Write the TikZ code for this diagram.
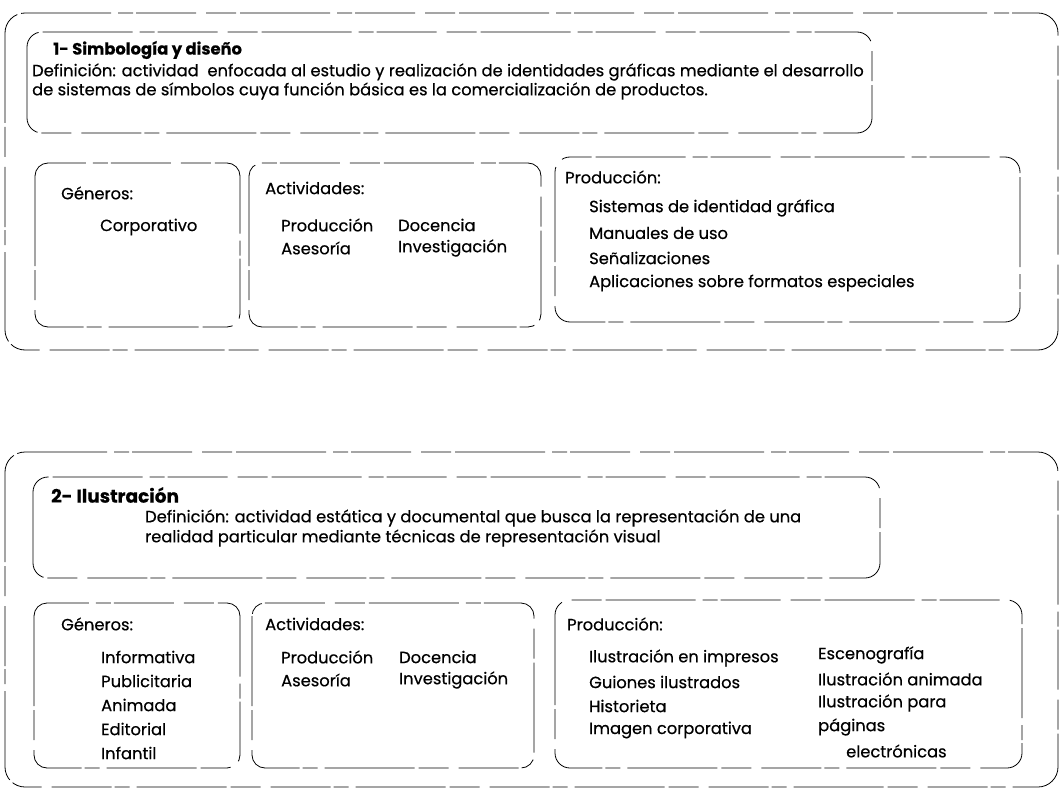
\documentclass[tikz,border=0pt]{standalone}
\usepackage{fontspec}
\setmainfont{Poppins}[FakeBold=0.5]

\tikzset{
  scanline/.style={line width=0.8pt, dash pattern=on 90pt off 4pt on 30pt off 10pt on 60pt off 3pt on 15pt off 7pt},
  txt/.style={anchor=west, inner sep=0pt, font=\fontsize{16.3}{18}\selectfont},
  ttl/.style={anchor=west, inner sep=0pt, font=\fontsize{16.3}{18}\selectfont\bfseries}
}

\begin{document}
\begin{tikzpicture}[x=1pt,y=-1pt]
	\useasboundingbox (0,0) rectangle (1061,789);

	%section 1
	\draw[scanline, rounded corners=20pt] (5,13) rectangle (1058,350);
	\draw[scanline, rounded corners=15pt] (27,32) rectangle (872,133);
	\node[ttl] (tituloA) at (53,50) {1- Simbología y diseño};
	\node[txt] (defA1) at (32,72) {Definición: actividad\ \ enfocada al estudio y realización de identidades gráficas mediante el desarrollo};
	\node[txt] (defA2) at (32,91) {de sistemas de símbolos cuya función básica es la comercialización de productos.};
	%
	\draw[scanline, rounded corners=13pt] (35,163) rectangle (240,327);
	\node[txt] (genA) at (61,193) {Géneros:};
	\node[txt] (genA1) at (100,227) {Corporativo};
	%
	\draw[scanline, rounded corners=13pt] (249,163) rectangle (541,327);
	\node[txt] (actA) at (265,188) {Actividades:};
	\node[txt] (actA1) at (281,225) {Producción};
	\node[txt] (actA2) at (398,225) {Docencia};
	\node[txt] (actA3) at (281,248) {Asesoría};
	\node[txt] (actA4) at (398,248) {Investigación};
	%
	\draw[scanline, rounded corners=15pt] (555,157) rectangle (1020,322);
	\node[txt] (prodA) at (565,177) {Producción:};
	\node[txt] (prodA1) at (589,208) {Sistemas de identidad gráfica};
	\node[txt] (prodA2) at (589,233) {Manuales de uso};
	\node[txt] (prodA3) at (589,258) {Señalizaciones};
	\node[txt] (prodA4) at (589,283) {Aplicaciones sobre formatos especiales};

	%section 2
	\draw[scanline, rounded corners=20pt] (5,452) rectangle (1058,787);
	\draw[scanline, rounded corners=15pt] (33,477) rectangle (880,578);
	\node[ttl, font=\fontsize{18.5}{20}\selectfont\bfseries] (tituloB) at (51,495) {2- Ilustración};
	\node[txt] (defB1) at (145,518) {Definición: actividad estática y documental que busca la representación de una};
	\node[txt] (defB2) at (145,538) {realidad particular mediante técnicas de representación visual};
	%
	\draw[scanline, rounded corners=13pt] (34,603) rectangle (240,768);
	\node[txt] (genB) at (61,624) {Géneros:};
	\foreach \g [count=\i] in {Informativa,Publicitaria,Animada,Editorial,Infantil}
		\node[txt] (genB\i) at (101,633+24*\i) {\g};
	%
	\draw[scanline, rounded corners=13pt] (252,603) rectangle (534,768);
	\node[txt] (actB) at (265,624) {Actividades:};
	\node[txt] (actB1) at (281,657) {Producción};
	\node[txt] (actB2) at (399,657) {Docencia};
	\node[txt] (actB3) at (281,680) {Asesoría};
	\node[txt] (actB4) at (399,680) {Investigación};
	%
	\draw[scanline, rounded corners=15pt] (555,600) rectangle (1022,768);
	\node[txt] (prodB) at (567,624) {Producción:};
	\node[txt] (prodB1) at (589,658) {Ilustración en impresos};
	\node[txt] (prodB2) at (589,682) {Guiones ilustrados};
	\node[txt] (prodB3) at (589,706) {Historieta};
	\node[txt] (prodB4) at (589,730) {Imagen corporativa};
	\node[txt] (prodB5) at (818,655) {Escenografía};
	\node[txt] (prodB6) at (818,679) {Ilustración animada};
	\node[txt] (prodB7) at (818,703) {Ilustración para};
	\node[txt] (prodB8) at (818,727) {páginas};
	\node[txt] (prodB9) at (846,751) {electrónicas};
\end{tikzpicture}
\end{document}
